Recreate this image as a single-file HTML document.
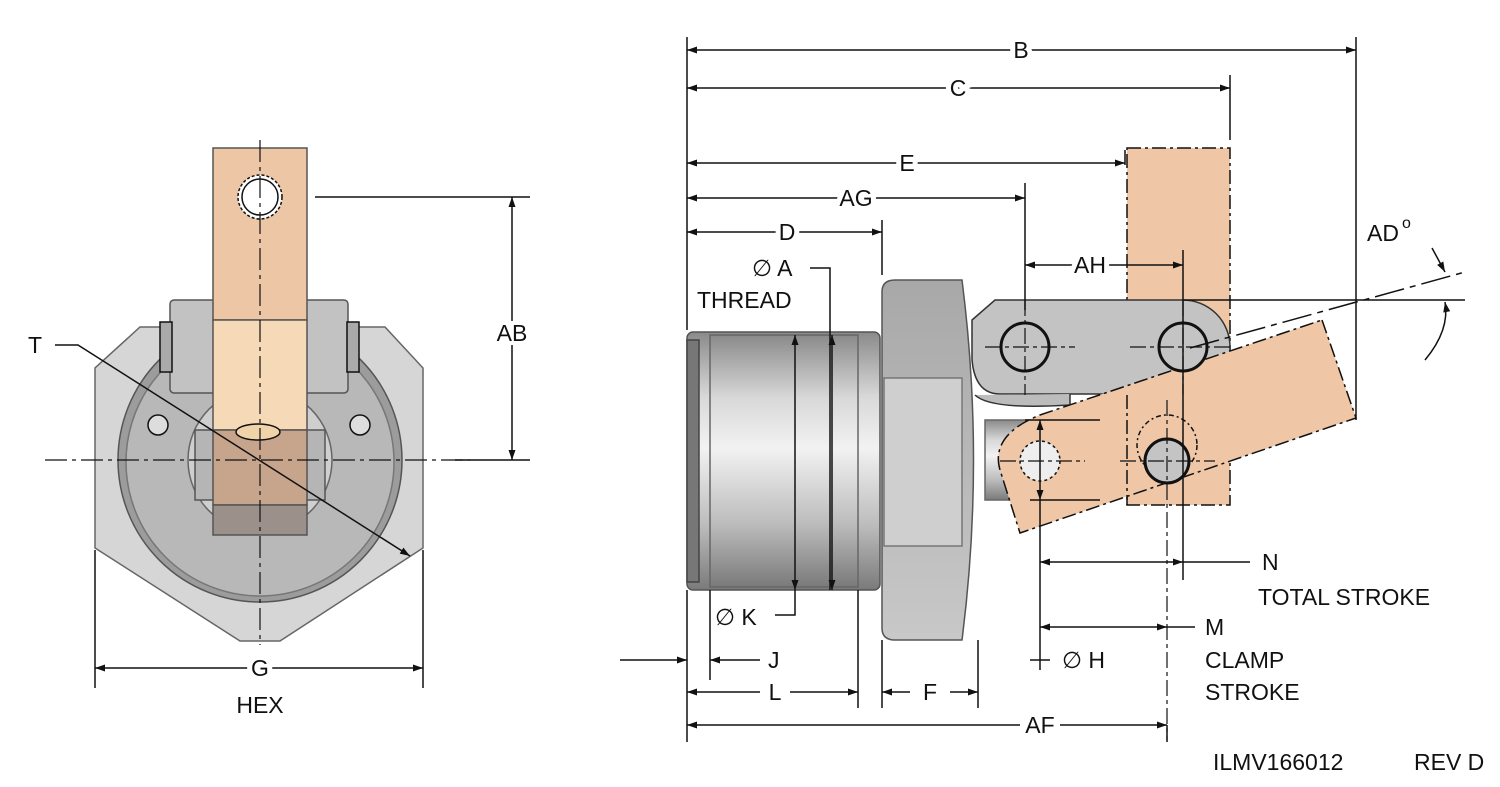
<!DOCTYPE html>
<html><head><style>
html,body{margin:0;padding:0;background:#fff;}
svg{display:block;}
text{font-family:"Liberation Sans",sans-serif;font-size:23px;fill:#111;}
</style></head><body>
<svg width="1500" height="787" viewBox="0 0 1500 787" xmlns="http://www.w3.org/2000/svg">
<defs>
<marker id="a" viewBox="0 0 10 10" refX="10" refY="5" markerWidth="14" markerHeight="10" orient="auto-start-reverse" markerUnits="userSpaceOnUse"><path d="M0,1.5 L10,5 L0,8.5z" fill="#111"/></marker>
<linearGradient id="cyl" x1="0" y1="0" x2="0" y2="1">
<stop offset="0" stop-color="#8a8a8a"/><stop offset="0.25" stop-color="#d8d8d8"/><stop offset="0.45" stop-color="#f2f2f2"/><stop offset="0.75" stop-color="#bcbcbc"/><stop offset="1" stop-color="#7a7a7a"/></linearGradient>
<linearGradient id="hexg" x1="0" y1="0" x2="0" y2="1">
<stop offset="0" stop-color="#a8a8a8"/><stop offset="1" stop-color="#c8c8c8"/></linearGradient>
</defs>
<g stroke="#111" stroke-width="1.5" fill="none">
<!-- LEFT VIEW -->
<polygon points="140,327 385,327 423,368 423,548 280,641 240,641 95,548 95,368" fill="#d6d6d6" stroke="#666"/>
<circle cx="260" cy="460" r="142" fill="#9c9c9c" stroke="#555"/>
<circle cx="260" cy="462" r="134" fill="#b8b8b8" stroke="#777"/>
<circle cx="260" cy="460" r="72" fill="#cfcfcf" stroke="#666"/>
<circle cx="158" cy="425" r="10" fill="#ddd"/><circle cx="360" cy="425" r="10" fill="#ddd"/>
<rect x="195" y="430" width="130" height="70" fill="#b5b5b5" stroke="#555"/>
<rect x="170" y="300" width="178" height="93" rx="4" fill="#c2c2c2" stroke="#555"/>
<rect x="160" y="322" width="12" height="50" fill="#aaa"/><rect x="347" y="322" width="12" height="50" fill="#aaa"/>
<rect x="213" y="148" width="94" height="172" fill="#edc6a6" stroke="#555"/>
<rect x="213" y="320" width="94" height="110" fill="#f6d9b7" stroke="#555"/>
<rect x="213" y="430" width="94" height="75" fill="#c6a58c" stroke="#555"/>
<rect x="213" y="505" width="94" height="30" fill="#9b918a" stroke="#555"/>
<ellipse cx="258" cy="432" rx="22" ry="8" fill="#f0d3a8"/>
<circle cx="260" cy="197" r="22" fill="#fff" stroke-dasharray="3 2"/><circle cx="260" cy="197" r="18" fill="#fff"/>
<path d="M45,460 H470 M260,140 V645" stroke-dasharray="22 5 4 5" stroke-width="1.2"/>
<path d="M55,345 H78 L410,556" marker-end="url(#a)"/>
<path d="M315,197 H530 M455,460 H530"/>
<path d="M512,197 V460" marker-start="url(#a)" marker-end="url(#a)"/>
<path d="M95,550 V688 M423,550 V688"/>
<path d="M95,668 H423" marker-start="url(#a)" marker-end="url(#a)"/>

<!-- RIGHT VIEW: body -->
<rect x="687" y="332" width="193" height="258" rx="6" fill="url(#cyl)" stroke="#555"/>
<rect x="687" y="340" width="12" height="242" fill="#777" stroke="#444"/>
<rect x="710" y="335" width="148" height="252" fill="url(#cyl)" stroke="#666"/>
<path d="M882,292 Q882,280 895,280 H962 Q985,460 962,640 H895 Q882,640 882,628Z" fill="url(#hexg)" stroke="#555"/>
<rect x="884" y="378" width="78" height="168" fill="#cfcfcf" stroke="#777"/>
<rect x="985" y="420" width="60" height="80" fill="url(#cyl)" stroke="#666"/>
<!-- tan vertical clamp (phantom) -->
<rect x="1127" y="148" width="103" height="357" fill="#efc7a6" stroke-dasharray="14 4 3 4"/>
<!-- link -->
<path d="M995,300 H1183 A47,47 0 0 1 1183,394 H1000 Q975,394 972,360 V320 Z" fill="#c3c3c3" stroke="#333"/>
<path d="M975,395 Q990,410 1070,405 V394" fill="#bcbcbc" stroke="#333"/>
<!-- rotated arm -->
<path d="M1322,320 L1356,418 L1020,533 L1000,470 Q990,435 1040,415 Z" fill="#efc7a6" stroke-dasharray="14 4 3 4"/>
<path d="M1127,395 V505" stroke-dasharray="14 4 3 4"/>
<circle cx="1040" cy="461" r="20" fill="#eee" stroke-dasharray="3 3"/>
<circle cx="1167" cy="445" r="30" stroke-dasharray="5 3 2 3"/>
<circle cx="1167" cy="461" r="22" fill="#c4c4c4" stroke-width="3"/>
<circle cx="1025" cy="347" r="24" fill="#c4c4c4" stroke-width="3"/>
<circle cx="1183" cy="347" r="24" fill="#c4c4c4" stroke-width="3"/>
<path d="M985,347 H1075 M1025,300 V395 M1130,347 H1230 M1183,300 V395 M1000,461 H1085 M1120,461 H1215 M1167,400 V740" stroke-dasharray="16 4 4 4" stroke-width="1.2"/>
<path d="M1025,420 H1100 M1030,500 H1100"/>
<path d="M1040,420 V500" marker-start="url(#a)" marker-end="url(#a)"/>
<path d="M1190,348 L1465,272" stroke-dasharray="30 6 6 6"/>
<path d="M1183,300 H1465"/>
<path d="M1425,360 Q1450,330 1445,302" marker-end="url(#a)"/>
<path d="M1432,248 L1445,272" marker-end="url(#a)"/>

<!-- dims right -->
<path d="M687,37 V330 M1356,37 V420 M1230,75 V140 M1025,183 V310 M882,220 V275 M1183,250 V580 M1125,150 V165"/>
<path d="M687,50 H1356" marker-start="url(#a)" marker-end="url(#a)"/>
<path d="M687,88 H1230" marker-start="url(#a)" marker-end="url(#a)"/>
<path d="M687,163 H1125" marker-start="url(#a)" marker-end="url(#a)"/>
<path d="M687,198 H1025" marker-start="url(#a)" marker-end="url(#a)"/>
<path d="M687,232 H882" marker-start="url(#a)" marker-end="url(#a)"/>
<path d="M1025,265 H1183" marker-start="url(#a)" marker-end="url(#a)"/>
<path d="M810,268 H830 V590"/>
<path d="M832,335 V590" marker-start="url(#a)" marker-end="url(#a)"/>
<path d="M795,335 V590" marker-start="url(#a)" marker-end="url(#a)"/>
<path d="M795,590 V615 H775"/>
<path d="M687,590 V742 M710,590 V680 M858,590 V708 M882,640 V708 M978,640 V708"/>
<path d="M620,660 H687" marker-end="url(#a)"/>
<path d="M760,660 H710" marker-end="url(#a)"/>
<path d="M687,692 H760" marker-start="url(#a)"/>
<path d="M790,692 H858" marker-end="url(#a)"/>
<path d="M910,692 H882" marker-end="url(#a)"/><path d="M950,692 H978" marker-end="url(#a)"/>
<path d="M687,725 H1020" marker-start="url(#a)"/><path d="M1060,725 H1167" marker-end="url(#a)"/>
<path d="M1167,725 V742"/>
<path d="M1040,500 V670 M1030,660 H1050"/>
<path d="M1040,562 H1183" marker-start="url(#a)" marker-end="url(#a)"/>
<path d="M1183,562 H1250"/>
<path d="M1040,627 H1167" marker-start="url(#a)" marker-end="url(#a)"/>
<path d="M1167,627 H1195"/>
</g>
<g>
<text x="260" y="676" text-anchor="middle" style="paint-order:stroke;stroke:#fff;stroke-width:10">G</text>
<text x="260" y="713" text-anchor="middle">HEX</text>
<text x="512" y="341" text-anchor="middle" style="paint-order:stroke;stroke:#fff;stroke-width:8">AB</text>
<text x="28" y="353">T</text>
<text x="1021" y="58" text-anchor="middle" style="paint-order:stroke;stroke:#fff;stroke-width:10">B</text>
<text x="958" y="96" text-anchor="middle" style="paint-order:stroke;stroke:#fff;stroke-width:10">C</text>
<text x="907" y="171" text-anchor="middle" style="paint-order:stroke;stroke:#fff;stroke-width:10">E</text>
<text x="856" y="206" text-anchor="middle" style="paint-order:stroke;stroke:#fff;stroke-width:10">AG</text>
<text x="787" y="240" text-anchor="middle" style="paint-order:stroke;stroke:#fff;stroke-width:10">D</text>
<text x="1090" y="273" text-anchor="middle" style="paint-order:stroke;stroke:#fff;stroke-width:10">AH</text>
<text x="752" y="276">∅ A</text>
<text x="697" y="308">THREAD</text>
<text x="715" y="625">∅ K</text>
<text x="768" y="668">J</text>
<text x="775" y="700" text-anchor="middle">L</text>
<text x="930" y="700" text-anchor="middle">F</text>
<text x="1040" y="733" text-anchor="middle">AF</text>
<text x="1062" y="668">∅ H</text>
<text x="1262" y="570">N</text>
<text x="1258" y="605">TOTAL STROKE</text>
<text x="1205" y="635">M</text>
<text x="1205" y="668">CLAMP</text>
<text x="1205" y="700">STROKE</text>
<text x="1367" y="241">AD</text><text x="1402" y="228" style="font-size:16px">o</text>
<text x="1213" y="770">ILMV166012</text>
<text x="1414" y="770">REV D</text>
</g>
</svg>
</body></html>
